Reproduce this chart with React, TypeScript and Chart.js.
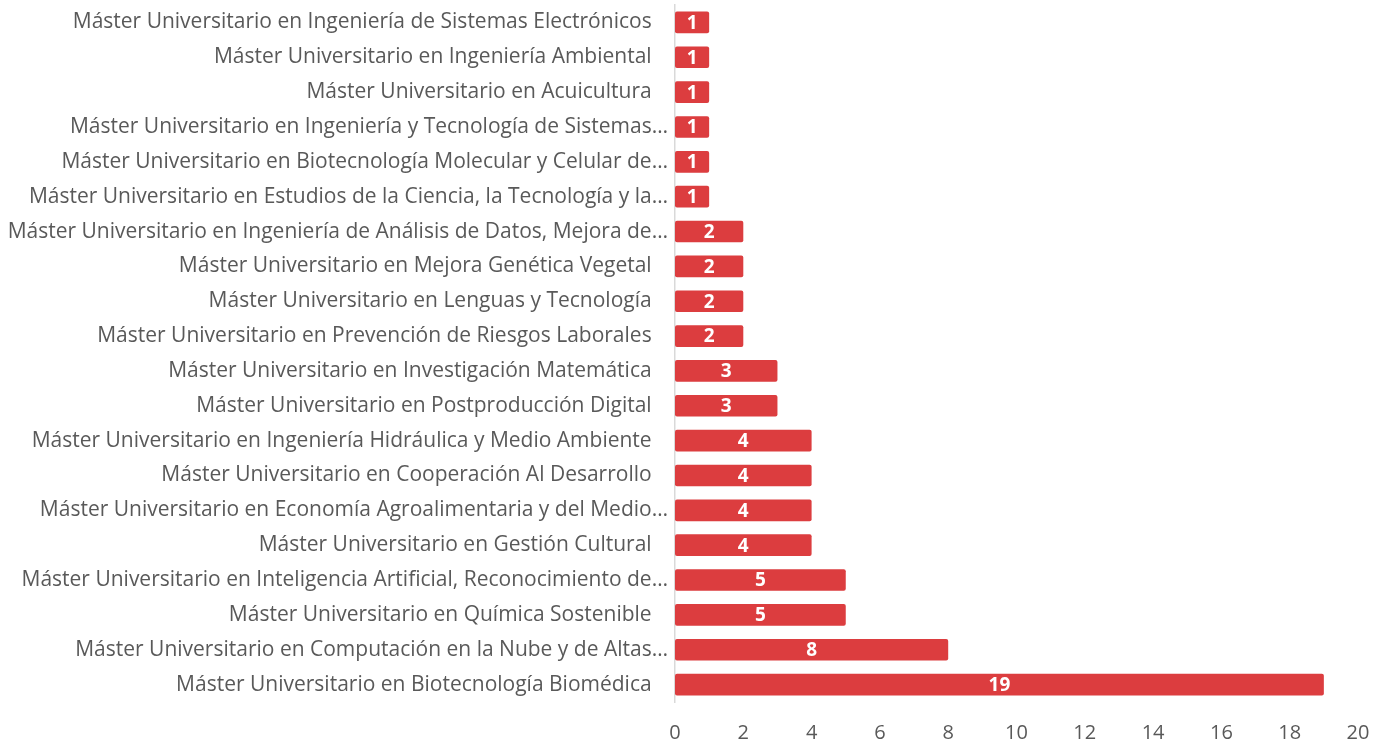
import React, { useEffect, useRef } from "react";
import { Chart, registerables } from "chart.js";

Chart.register(...registerables);

const categories: string[] = [
  "Máster Universitario en Ingeniería de Sistemas Electrónicos   ",
  "Máster Universitario en Ingeniería Ambiental   ",
  "Máster Universitario en Acuicultura   ",
  "Máster Universitario en Ingeniería y Tecnología de Sistemas…",
  "Máster Universitario en Biotecnología Molecular y Celular de…",
  "Máster Universitario en Estudios de la Ciencia, la Tecnología y la…",
  "Máster Universitario en Ingeniería de Análisis de Datos, Mejora de…",
  "Máster Universitario en Mejora Genética Vegetal   ",
  "Máster Universitario en Lenguas y Tecnología   ",
  "Máster Universitario en Prevención de Riesgos Laborales   ",
  "Máster Universitario en Investigación Matemática   ",
  "Máster Universitario en Postproducción Digital   ",
  "Máster Universitario en Ingeniería Hidráulica y Medio Ambiente   ",
  "Máster Universitario en Cooperación Al Desarrollo   ",
  "Máster Universitario en Economía Agroalimentaria y del Medio…",
  "Máster Universitario en Gestión Cultural   ",
  "Máster Universitario en Inteligencia Artificial, Reconocimiento de…",
  "Máster Universitario en Química Sostenible   ",
  "Máster Universitario en Computación en la Nube y de Altas…",
  "Máster Universitario en Biotecnología Biomédica   ",
];

const values: number[] = [1, 1, 1, 1, 1, 1, 2, 2, 2, 2, 3, 3, 4, 4, 4, 4, 5, 5, 8, 19];

const xTicks: number[] = [0, 2, 4, 6, 8, 10, 12, 14, 16, 18, 20];

const FONT = "'Open Sans', 'Noto Sans', sans-serif";
const BAR_COLOR = "#DC3D3F";

const valueLabels = {
  id: "valueLabels",
  afterDatasetsDraw(chart: any) {
    const ctx = chart.ctx;
    const meta = chart.getDatasetMeta(0);
    ctx.save();
    ctx.fillStyle = "#FFFFFF";
    ctx.font = `bold 19px ${FONT}`;
    ctx.textAlign = "center";
    ctx.textBaseline = "middle";
    meta.data.forEach((bar: any, i: number) => {
      const cx = (bar.x + bar.base) / 2;
      ctx.fillText(String(values[i]), cx, bar.y + 1);
    });
    ctx.restore();
  },
};

export default function App() {
  const ref = useRef<HTMLCanvasElement | null>(null);
  useEffect(() => {
    if (!ref.current) return;
    const chart = new Chart(ref.current, {
      type: "bar",
      data: {
        labels: categories,
        datasets: [
          {
            data: values,
            backgroundColor: BAR_COLOR,
            borderWidth: 0,
            borderRadius: 2,
            borderSkipped: false,
            barPercentage: 0.62,
            categoryPercentage: 1,
          },
        ],
      },
      options: {
        indexAxis: "y",
        animation: false,
        responsive: false,
        maintainAspectRatio: false,
        layout: { padding: { left: 0, right: 29, top: 5, bottom: 0 } },
        plugins: {
          legend: { display: false },
          tooltip: { enabled: false },
        },
        scales: {
          x: {
            min: 0,
            max: 20,
            afterBuildTicks: (scale: any) => {
              scale.ticks = xTicks.map((v) => ({ value: v }));
            },
            grid: { display: false, drawTicks: false },
            border: { display: false },
            ticks: {
              color: "#595959",
              font: { family: FONT, size: 20 },
              padding: 19,
              maxRotation: 0,
            },
            afterFit: (scale: any) => {
              scale.height = 42;
              scale.paddingLeft = 0;
              scale.paddingRight = 0;
            },
          },
          y: {
            grid: { display: false, drawTicks: false },
            border: { display: true, color: "#D9D9D9", width: 1.5 },
            ticks: {
              color: "#595959",
              font: { family: FONT, size: 21 },
              padding: 7,
              autoSkip: false,
            },
            afterFit: (scale: any) => {
              scale.width = 675;
              scale.paddingTop = 0;
              scale.paddingBottom = 0;
            },
          },
        },
      },
      plugins: [valueLabels],
    });
    return () => chart.destroy();
  }, []);
  return (
    <div style={{ position: "fixed", left: 0, top: 0, width: 1387, height: 744, background: "#fff" }}>
      <canvas ref={ref} width={1387} height={744} style={{ display: "block" }} />
    </div>
  );
}
